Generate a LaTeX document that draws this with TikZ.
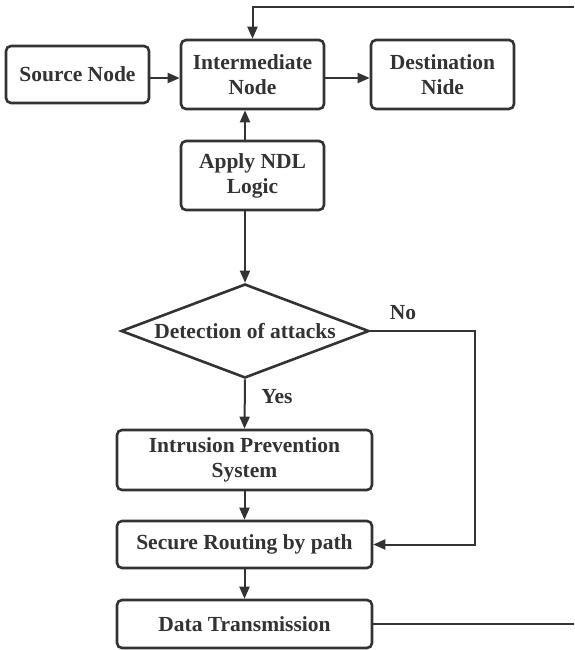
\documentclass[tikz,border=0pt]{standalone}
\usepackage{fontspec}
\setmainfont{Liberation Serif}
\usetikzlibrary{shapes.geometric,arrows.meta}
\definecolor{ink}{HTML}{333333}
\tikzset{
  txt/.style={text=ink, font=\bfseries\fontsize{21.5}{25}\selectfont},
  box/.style={txt, draw=ink, line width=2.6pt, rounded corners=5pt, fill=white,
    align=center, inner sep=0pt},
  decision/.style={txt, draw=ink, line width=2.6pt, shape=diamond, aspect=2.6, inner sep=0pt},
  link/.style={draw=ink, line width=2pt},
  arr/.style={link, -{Triangle[length=12pt,width=10pt]}},
  tag/.style={txt}
}
\begin{document}
\begin{tikzpicture}[x=1pt,y=-1pt]
\useasboundingbox (0,0) rectangle (574,650);

% upper row
\node[box, minimum width=143pt, minimum height=57pt] (src) at (77.5,74.5) {Source Node};
\node[box, minimum width=143pt, minimum height=69pt] (inter) at (252.5,74.5) {Intermediate\\Node};
\node[box, minimum width=143pt, minimum height=69pt] (dest) at (442.5,74.5) {Destination\\Nide};
\node[box, minimum width=143pt, minimum height=69pt] (ndl) at (252.5,175.5) {Apply NDL\\Logic};

% decision and lower column
\node[decision, minimum width=248pt, minimum height=94pt] (det) at (245,331) {Detection of attacks};
\node[box, minimum width=255pt, minimum height=60pt] (ips) at (244.5,460) {Intrusion Prevention\\System};
\node[box, minimum width=255pt, minimum height=47pt] (route) at (244.5,544.5) {Secure Routing by path};
\node[box, minimum width=255pt, minimum height=48pt] (data) at (244.5,624) {Data Transmission};

% helper points for the branch and the loop back
\coordinate (nobend) at (475,331);
\coordinate (loopout) at (574,624);
\coordinate (loopin) at (574,7);

% connectors
\draw[arr] ([yshift=-3.5pt]src.east) -- ([yshift=-3.5pt]src.east -| inter.west);
\draw[arr] ([yshift=-3.5pt]inter.east) -- ([yshift=-3.5pt]inter.east -| dest.west);
\draw[arr] ([xshift=-7.5pt]ndl.north) -- ([xshift=-7.5pt]inter.south);
\draw[arr] ([xshift=-7.5pt]ndl.south) -- (det.north);
\draw[arr] (det.south) -- (ips.north);
\draw[arr] (ips.south) -- (route.north);
\draw[arr] (route.south) -- (data.north);
\draw[arr] (det.east) -- (nobend) |- (route.east);
\draw[link] (data.east) -- (loopout);
\draw[arr] (loopin) -| (inter.north);

% branch labels
\node[tag] (no) at (403,313) {No};
\node[tag] (yes) at (277,397) {Yes};
\end{tikzpicture}
\end{document}
